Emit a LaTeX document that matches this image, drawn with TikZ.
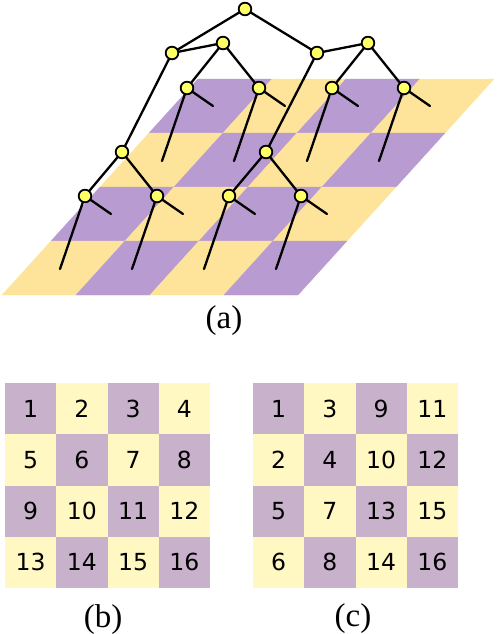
\documentclass[tikz,border=0pt]{standalone}
\usepackage{fontspec}
\newfontfamily\numfont{DejaVu Sans}
\newfontfamily\capfont{Liberation Serif}
\usepackage{tkz-euclide}
\definecolor{PlaneVio}{HTML}{B89BD0}
\definecolor{PlaneYel}{HTML}{FDE49A}
\definecolor{GridVio}{HTML}{C8B1CB}
\definecolor{GridYel}{HTML}{FFF8C2}
\definecolor{NodeClr}{HTML}{FFFF66}

\begin{document}
\begin{tikzpicture}[x=1pt,y=-1pt,
  edge/.style={line width=2.3pt,line cap=round},
  cell/.style={minimum size=51.25pt,inner sep=0pt,font=\numfont\fontsize{23.5}{23.5}\selectfont},
  caption/.style={inner sep=0pt,font=\capfont\fontsize{33}{33}\selectfont}]
\useasboundingbox (0,0) rectangle (496,634);

% checkerboard plane
\foreach \r in {0,...,3}{
  \foreach \c in {0,...,3}{
    \pgfmathtruncatemacro\k{mod(\r+\c,2)}
    \ifnum\k=0 \def\clr{PlaneVio}\else\def\clr{PlaneYel}\fi
    \pgfmathsetmacro\x{198-49*\r+74*\c}
    \pgfmathsetmacro\y{79+54*\r}
    \fill[\clr,draw=\clr,line width=.3pt] (\x,\y) -- ++(74,0) -- ++(-49,54) -- ++(-74,0) -- cycle;
  }
}

\tkzDefPoints{245/9/R,172/53/L,317/53/M,223/43/LL,368/43/MM,
  187/88/P1,259/88/P2,332/88/P3,404/88/P4,
  122/152/LB,266/152/MB,
  85/196/Q1,157/196/Q2,229/196/Q3,301/196/Q4}

% leaf stubs
\foreach \p in {P1,P2,P3,P4,Q1,Q2,Q3,Q4}{
  \path (\p) ++(26,18) coordinate (\p s);
  \path (\p) ++(-25,73) coordinate (\p l);
  \draw[edge] (\p) -- (\p s);
  \draw[edge] (\p) -- (\p l);
}

\foreach \a/\b in {R/L,R/M,L/LL,M/MM,LL/P1,LL/P2,MM/P3,MM/P4,L/LB,M/MB,LB/Q1,LB/Q2,MB/Q3,MB/Q4}
  \draw[edge] (\a) -- (\b);

\foreach \p in {R,L,M,LL,MM,P1,P2,P3,P4,LB,MB,Q1,Q2,Q3,Q4}
  \draw[line width=1.8pt,fill=NodeClr] (\p) circle (6.3);

% grid (b)
\foreach \n [count=\i from 0] in {1,...,16}{
  \pgfmathtruncatemacro\r{\i/4}
  \pgfmathtruncatemacro\c{mod(\i,4)}
  \pgfmathtruncatemacro\k{mod(\r+\c,2)}
  \ifnum\k=0 \def\clr{GridVio}\else\def\clr{GridYel}\fi
  \node[cell,fill=\clr] (b\n) at (30.625+51.25*\c,408.625+51.25*\r) {\n};
}
% grid (c)
\foreach \n [count=\i from 0] in {1,3,9,11,2,4,10,12,5,7,13,15,6,8,14,16}{
  \pgfmathtruncatemacro\r{\i/4}
  \pgfmathtruncatemacro\c{mod(\i,4)}
  \pgfmathtruncatemacro\k{mod(\r+\c,2)}
  \ifnum\k=0 \def\clr{GridVio}\else\def\clr{GridYel}\fi
  \node[cell,fill=\clr] (c\n) at (278.625+51.25*\c,408.625+51.25*\r) {\n};
}

\node[caption] (capa) at (224,321) {(a)};
\node[caption] (capb) at (103,620) {(b)};
\node[caption] (capc) at (353,619) {(c)};
\end{tikzpicture}
\end{document}
